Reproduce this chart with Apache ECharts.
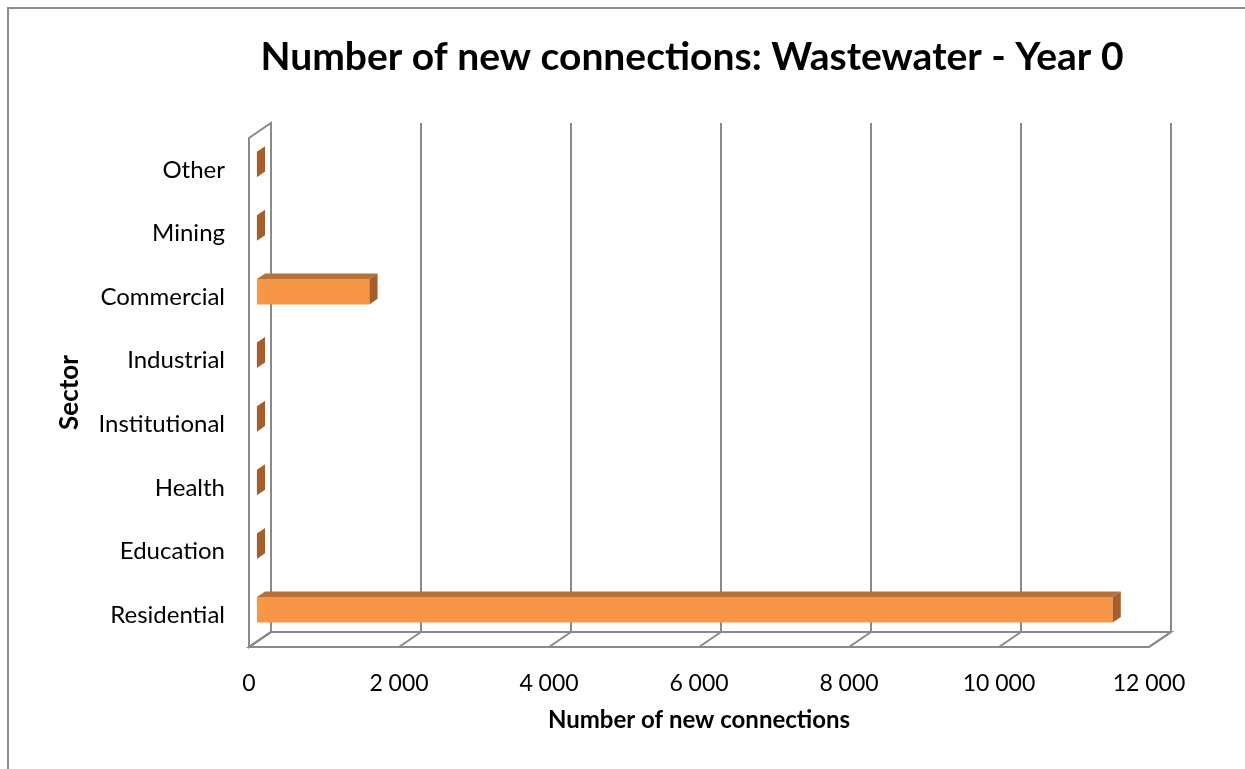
<!DOCTYPE html>
<html>
<head>
<meta charset="utf-8">
<script src="https://cdn.jsdelivr.net/npm/echarts@6/dist/echarts.min.js"></script>
<style>
  html, body { margin: 0; padding: 0; background: #ffffff; }
  #chart { width: 1245px; height: 769px; }
</style>
</head>
<body>
<div id="chart"></div>
<script>
// Sectors, bottom to top
const sectors = ['Residential', 'Education', 'Health', 'Institutional', 'Industrial', 'Commercial', 'Mining', 'Other'];
// Number of new connections per sector
const connections = [11410, 0, 0, 0, 0, 1500, 0, 0];
// Value-axis tick positions
const xTicks = [0, 2000, 4000, 6000, 8000, 10000, 12000];

const FONT = 'Lato, "Noto Sans", sans-serif';
const DX = 22, DY = -15;            // depth vector of the 3D box
const T0 = 0.36, T1 = 0.73;          // bar depth span (fraction of box depth)
const BAR_FRAC = 0.40;               // bar thickness as a share of the band
const LINE = '#8a8a8a';
const FRONT = '#F79646', TOP = '#B9713A', SIDE = '#A65F2A';

const chart = echarts.init(document.getElementById('chart'));

function fmt(v) {
  return String(v).replace(/\B(?=(\d{3})+(?!\d))/g, ' ');
}

function renderFrame(params, api) {
  const band = api.size([0, 1])[1];
  const yBot = api.coord([0, 0])[1] + band / 2;
  const yTop = api.coord([0, sectors.length - 1])[1] - band / 2;
  const x0 = api.coord([xTicks[0], 0])[0];
  const xN = api.coord([xTicks[xTicks.length - 1], 0])[0];
  const style = { stroke: LINE, lineWidth: 2, fill: null };
  const children = [];
  // side wall at zero
  children.push({ type: 'polygon', shape: { points: [[x0, yTop], [x0 + DX, yTop + DY], [x0 + DX, yBot + DY], [x0, yBot]] }, style: style });
  // floor
  children.push({ type: 'polygon', shape: { points: [[x0, yBot], [xN, yBot], [xN + DX, yBot + DY], [x0 + DX, yBot + DY]] }, style: style });
  xTicks.forEach(function (t) {
    const x = api.coord([t, 0])[0];
    children.push({ type: 'line', shape: { x1: x + DX, y1: yTop + DY, x2: x + DX, y2: yBot + DY }, style: { stroke: LINE, lineWidth: 2 } });
    children.push({ type: 'line', shape: { x1: x, y1: yBot, x2: x + DX, y2: yBot + DY }, style: { stroke: LINE, lineWidth: 2 } });
  });
  return { type: 'group', children: children };
}

function renderBar(params, api) {
  const val = api.value(0);
  const idx = api.value(1);
  const band = api.size([0, 1])[1];
  const h = band * BAR_FRAC;
  const c = api.coord([0, idx]);
  const e = api.coord([val, idx]);
  const fx = DX * T0, fy = DY * T0;
  const bdx = DX * (T1 - T0), bdy = DY * (T1 - T0);
  const xa = c[0] + fx, xb = e[0] + fx;
  const yt = c[1] + fy - h / 2, yb = c[1] + fy + h / 2;
  const children = [];
  if (xb - xa > 0.5) {
    children.push({ type: 'rect', shape: { x: xa, y: yt, width: xb - xa, height: h }, style: { fill: FRONT } });
    children.push({ type: 'polygon', shape: { points: [[xa, yt], [xb, yt], [xb + bdx, yt + bdy], [xa + bdx, yt + bdy]] }, style: { fill: TOP } });
  }
  children.push({ type: 'polygon', shape: { points: [[xb, yt], [xb + bdx, yt + bdy], [xb + bdx, yb + bdy], [xb, yb]] }, style: { fill: SIDE } });
  return { type: 'group', children: children };
}

chart.setOption({
  animation: false,
  backgroundColor: '#ffffff',
  graphic: [
    { type: 'rect', shape: { x: 8, y: 8, width: 1260, height: 800 }, style: { fill: null, stroke: '#8c8c8c', lineWidth: 2 }, silent: true },
    { type: 'text', x: 692, y: 57, style: { text: 'Number of new connections: Wastewater - Year 0', font: 'bold 39px ' + FONT, fill: '#000', align: 'center', verticalAlign: 'middle' } }
  ],
  grid: { left: 249, right: 96, top: 138, bottom: 122, containLabel: false },
  xAxis: {
    type: 'value', min: 0, max: 12000, interval: 2000,
    axisLine: { show: false }, axisTick: { show: false }, splitLine: { show: false },
    axisLabel: { formatter: fmt, color: '#000', fontFamily: FONT, fontSize: 23, margin: 25 },
    name: 'Number of new connections', nameLocation: 'middle', nameGap: 61,
    nameTextStyle: { color: '#000', fontFamily: FONT, fontWeight: 'bold', fontSize: 24 }
  },
  yAxis: {
    type: 'category', data: sectors,
    axisLine: { show: false }, axisTick: { show: false }, splitLine: { show: false },
    axisLabel: { color: '#000', fontFamily: FONT, fontSize: 24, margin: 24 },
    name: 'Sector', nameLocation: 'middle', nameGap: 166, nameRotate: 90,
    nameTextStyle: { color: '#000', fontFamily: FONT, fontWeight: 'bold', fontSize: 26 }
  },
  series: [
    { type: 'custom', name: 'frame', renderItem: renderFrame, data: [[0, 0]], z: 1, silent: true },
    { type: 'custom', name: 'connections', renderItem: renderBar, z: 2,
      data: connections.map(function (v, i) { return [v, i]; }),
      encode: { x: 0, y: 1 } }
  ]
});
</script>
</body>
</html>
